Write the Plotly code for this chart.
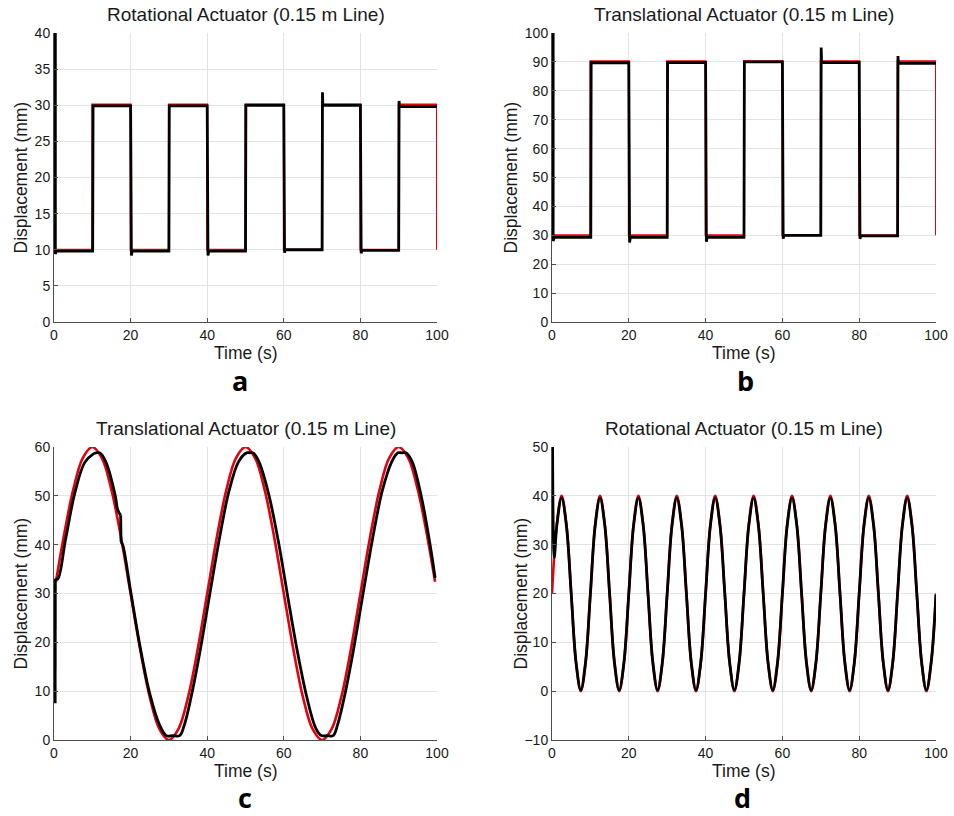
import plotly.graph_objects as go

W, H = 954, 816

# ---------------- Data ----------------
# Panel a: Rotational actuator, square wave
a_ref_t = [0, 10, 10, 20, 20, 30, 30, 40, 40, 50, 50, 60, 60, 70, 70, 80, 80, 90, 90, 100, 100]
a_ref_y = [10, 10, 30.1, 30.1, 10, 10, 30.1, 30.1, 10, 10, 30.1, 30.1, 10, 10, 30.1, 30.1, 10, 10, 30.1, 30.1, 10]
a_act_t = [0.35, 0.35, 0.6, 10.1, 10.2, 20.0, 20.2, 20.4, 30.0, 30.1, 40.0, 40.2, 40.4, 50.0, 50.1,
           60.0, 60.2, 60.4, 70.0, 70.1, 70.2, 80.0, 80.2, 80.4, 90.0, 90.1, 90.2, 100]
a_act_y = [40, 9.4, 9.8, 9.8, 29.9, 29.9, 9.2, 9.8, 9.8, 29.9, 29.9, 9.2, 9.8, 9.8, 30.0,
           30.0, 9.6, 10.0, 10.0, 31.8, 30.0, 30.0, 9.5, 9.9, 9.9, 30.6, 29.8, 29.8]

# Panel b: Translational actuator, square wave
b_ref_t = [0, 10, 10, 20, 20, 30, 30, 40, 40, 50, 50, 60, 60, 70, 70, 80, 80, 90, 90, 100, 100]
b_ref_y = [30, 30, 90.2, 90.2, 30, 30, 90.2, 90.2, 30, 30, 90.2, 90.2, 30, 30, 90.2, 90.2, 30, 30, 90.2, 90.2, 30]
b_act_t = [0.3, 0.3, 0.6, 10.1, 10.2, 20.0, 20.2, 20.4, 30.0, 30.1, 40.0, 40.2, 40.4, 50.0, 50.1,
           60.0, 60.2, 60.4, 70.0, 70.1, 70.2, 80.0, 80.2, 80.4, 90.0, 90.1, 90.2, 100]
b_act_y = [100, 28.0, 29.3, 29.3, 89.7, 89.7, 27.5, 29.3, 29.3, 89.8, 89.8, 27.8, 29.3, 29.3, 90.0,
           90.0, 28.8, 30.0, 30.0, 95.0, 89.8, 89.8, 28.8, 29.8, 29.8, 92.0, 89.5, 89.5]

# Panel c: Translational actuator, sine (period 40 s)
c_ref_t = [0.5, 2.5, 5, 7.5, 10, 12.5, 15, 17.5, 20, 22.5, 25, 27.5, 30, 32.5, 35, 37.5, 40,
           42.5, 45, 47.5, 50, 52.5, 55, 57.5, 60, 62.5, 65, 67.5, 70, 72.5, 75, 77.5, 80,
           82.5, 85, 87.5, 90, 92.5, 95, 97.5, 99.5]
c_ref_y = [32.4, 41.48, 51.21, 57.72, 60, 57.72, 51.21, 41.48, 30, 18.52, 8.79, 2.28, 0, 2.28, 8.79, 18.52, 30,
           41.48, 51.21, 57.72, 60, 57.72, 51.21, 41.48, 30, 18.52, 8.79, 2.28, 0, 2.28, 8.79, 18.52, 30,
           41.48, 51.21, 57.72, 60, 57.72, 51.21, 41.48, 32.4]
c_start_t = [0.3, 0.35]
c_start_y = [7.5, 33.0]
c_act1_t = [0.35, 1.0, 3.0, 5.5, 8.0, 10.3, 11.0, 12.0, 13.5, 16.0, 16.6, 17.4]
c_act1_y = [33.0, 33.0, 41.0, 50.8, 56.8, 58.6, 58.8, 58.8, 57.0, 50.0, 47.2, 46.0]
c_glitch_t = [17.4, 17.5]
c_glitch_y = [46.0, 40.6]
c_act2_t = [17.5, 18.0, 20.0, 22.5, 25.0, 27.5, 29.3, 31.0, 32.8, 34.0, 35.8, 38.2, 40.7, 43.2, 45.7,
            48.2, 50.3, 51.2, 52.0, 53.5, 56.0, 58.5, 61.0, 63.5, 66.0, 68.3, 69.8, 71.3, 72.9, 74.0,
            75.8, 78.2, 80.7, 83.2, 85.7, 88.2, 89.8, 90.8, 91.9, 93.5, 96.0, 98.5, 99.5]
c_act2_y = [40.6, 39.8, 30.5, 19.0, 9.5, 3.2, 0.9, 0.9, 0.9, 3.0, 8.8, 18.5, 30.0, 41.3, 51.0,
            57.0, 58.8, 58.8, 58.8, 57.0, 50.5, 41.0, 29.5, 18.3, 8.8, 2.5, 0.9, 0.9, 0.9, 3.0,
            8.8, 18.5, 30.0, 41.3, 51.0, 57.0, 58.8, 58.8, 58.8, 57.0, 49.5, 38.5, 33.2]

# Panel d: Rotational actuator, sine (period 10 s)
d_t = [0, 1.25, 2.5, 3.75, 5, 6.25, 7.5, 8.75,
       10, 11.25, 12.5, 13.75, 15, 16.25, 17.5, 18.75,
       20, 21.25, 22.5, 23.75, 25, 26.25, 27.5, 28.75,
       30, 31.25, 32.5, 33.75, 35, 36.25, 37.5, 38.75,
       40, 41.25, 42.5, 43.75, 45, 46.25, 47.5, 48.75,
       50, 51.25, 52.5, 53.75, 55, 56.25, 57.5, 58.75,
       60, 61.25, 62.5, 63.75, 65, 66.25, 67.5, 68.75,
       70, 71.25, 72.5, 73.75, 75, 76.25, 77.5, 78.75,
       80, 81.25, 82.5, 83.75, 85, 86.25, 87.5, 88.75,
       90, 91.25, 92.5, 93.75, 95, 96.25, 97.5, 98.75,
       100]
d_ref_y = [20, 34.14, 40, 34.14, 20, 5.86, 0, 5.86,
           20, 34.14, 40, 34.14, 20, 5.86, 0, 5.86,
           20, 34.14, 40, 34.14, 20, 5.86, 0, 5.86,
           20, 34.14, 40, 34.14, 20, 5.86, 0, 5.86,
           20, 34.14, 40, 34.14, 20, 5.86, 0, 5.86,
           20, 34.14, 40, 34.14, 20, 5.86, 0, 5.86,
           20, 34.14, 40, 34.14, 20, 5.86, 0, 5.86,
           20, 34.14, 40, 34.14, 20, 5.86, 0, 5.86,
           20, 34.14, 40, 34.14, 20, 5.86, 0, 5.86,
           20, 34.14, 40, 34.14, 20, 5.86, 0, 5.86,
           20]
d_act_t = [0.15, 0.6, 1.25, 2.5, 3.75, 5, 6.25, 7.5, 8.75,
           10, 11.25, 12.5, 13.75, 15, 16.25, 17.5, 18.75,
           20, 21.25, 22.5, 23.75, 25, 26.25, 27.5, 28.75,
           30, 31.25, 32.5, 33.75, 35, 36.25, 37.5, 38.75,
           40, 41.25, 42.5, 43.75, 45, 46.25, 47.5, 48.75,
           50, 51.25, 52.5, 53.75, 55, 56.25, 57.5, 58.75,
           60, 61.25, 62.5, 63.75, 65, 66.25, 67.5, 68.75,
           70, 71.25, 72.5, 73.75, 75, 76.25, 77.5, 78.75,
           80, 81.25, 82.5, 83.75, 85, 86.25, 87.5, 88.75,
           90, 91.25, 92.5, 93.75, 95, 96.25, 97.5, 98.75,
           100]
d_act_y = [50, 27.4, 33.9, 39.6, 33.9, 20, 6.0, 0.2, 6.0,
           20, 33.9, 39.6, 33.9, 20, 6.0, 0.2, 6.0,
           20, 33.9, 39.6, 33.9, 20, 6.0, 0.2, 6.0,
           20, 33.9, 39.6, 33.9, 20, 6.0, 0.2, 6.0,
           20, 33.9, 39.6, 33.9, 20, 6.0, 0.2, 6.0,
           20, 33.9, 39.6, 33.9, 20, 6.0, 0.2, 6.0,
           20, 33.9, 39.6, 33.9, 20, 6.0, 0.2, 6.0,
           20, 33.9, 39.6, 33.9, 20, 6.0, 0.2, 6.0,
           20, 33.9, 39.6, 33.9, 20, 6.0, 0.2, 6.0,
           20, 33.9, 39.6, 33.9, 20, 6.0, 0.2, 6.0,
           19.8]

x_ticks = [0, 20, 40, 60, 80, 100]
titles = ["Rotational Actuator (0.15 m Line)", "Translational Actuator (0.15 m Line)",
          "Translational Actuator (0.15 m Line)", "Rotational Actuator (0.15 m Line)"]
panel_letters = ["a", "b", "c", "d"]
y_ranges = [[0, 40], [0, 100], [0, 60], [-10, 50]]
y_dticks = [5, 10, 10, 10]

# ---------------- Layout geometry (screen pixels) ----------------
# (left, right, top, bottom) of each plot area
boxes = [(54, 437, 33, 322), (552, 936, 33, 322), (54, 437, 447, 740), (552, 936, 447, 740)]
ytitle_x = [20, 510, 20, 520]
letter_xy = [(240, 380), (745, 380), (245, 797), (742, 797)]

RED = "#e3000f"
BLACK = "#000000"
FONT = "Liberation Sans, Arial, sans-serif"


def px(x):
    return x / W


def py(y):
    return 1 - y / H


fig = go.Figure()


def add(t, y, color, width, idx, shape="linear"):
    ax = "" if idx == 0 else str(idx + 1)
    fig.add_trace(go.Scatter(x=t, y=y, mode="lines", line=dict(color=color, width=width, shape=shape),
                             xaxis="x" + ax, yaxis="y" + ax, showlegend=False, hoverinfo="skip"))


add(a_ref_t, a_ref_y, RED, 2, 0)
add(a_act_t, a_act_y, BLACK, 2.8, 0)
add(b_ref_t, b_ref_y, RED, 2, 1)
add(b_act_t, b_act_y, BLACK, 2.8, 1)
add(c_ref_t, c_ref_y, RED, 2.6, 2, "spline")
add(c_start_t, c_start_y, BLACK, 2.8, 2)
add(c_act1_t, c_act1_y, BLACK, 2.8, 2, "spline")
add(c_glitch_t, c_glitch_y, BLACK, 2.8, 2)
add(c_act2_t, c_act2_y, BLACK, 2.8, 2, "spline")
add(d_t, d_ref_y, RED, 2.6, 3, "spline")
add(d_act_t, d_act_y, BLACK, 2.8, 3, "spline")

layout = dict(width=W, height=H, margin=dict(l=0, r=0, t=0, b=0, autoexpand=False),
              paper_bgcolor="white", plot_bgcolor="white",
              font=dict(family=FONT, color="#1a1a1a"))
annotations = []
for i, (l, r, t, b) in enumerate(boxes):
    ax = "" if i == 0 else str(i + 1)
    common = dict(showgrid=True, gridcolor="#e4e4e4", gridwidth=1, zeroline=False,
                  showline=True, linecolor="#4d4d4d", linewidth=1, mirror=False,
                  ticks="inside", ticklen=4, tickcolor="#4d4d4d", automargin=False,
                  tickfont=dict(size=14, family=FONT, color="#1a1a1a"))
    layout["xaxis" + ax] = dict(domain=[px(l), px(r)], range=[0, 100], tickvals=x_ticks,
                                anchor="y" + ax, **common)
    layout["yaxis" + ax] = dict(domain=[py(b), py(t)], range=y_ranges[i], dtick=y_dticks[i],
                                tick0=y_ranges[i][0], anchor="x" + ax, **common)
    cx = px((l + r) / 2)
    annotations.append(dict(text=titles[i], x=cx, y=py(t - 19), xref="paper", yref="paper",
                            showarrow=False, xanchor="center", yanchor="middle",
                            font=dict(size=19, family=FONT, color="#1a1a1a")))
    annotations.append(dict(text="Time (s)", x=cx, y=py(b + 31), xref="paper", yref="paper",
                            showarrow=False, xanchor="center", yanchor="middle",
                            font=dict(size=17.5, family=FONT, color="#1a1a1a")))
    annotations.append(dict(text="Displacement (mm)", x=px(ytitle_x[i]), y=py((t + b) / 2),
                            xref="paper", yref="paper", showarrow=False, textangle=-90,
                            xanchor="center", yanchor="middle",
                            font=dict(size=17.5, family=FONT, color="#1a1a1a")))
    lx, ly = letter_xy[i]
    annotations.append(dict(text="<b>" + panel_letters[i] + "</b>", x=px(lx), y=py(ly),
                            xref="paper", yref="paper", showarrow=False,
                            xanchor="center", yanchor="middle",
                            font=dict(size=27, family="Open Sans, Noto Sans, sans-serif", color="#000000")))

layout["annotations"] = annotations
fig.update_layout(**layout)
# remove the default page margin so the 954x816 figure fills the window exactly
fig.write_html("out.html", config={"displayModeBar": False},
               post_script="document.body.style.margin='0';document.body.style.overflow='hidden';")
